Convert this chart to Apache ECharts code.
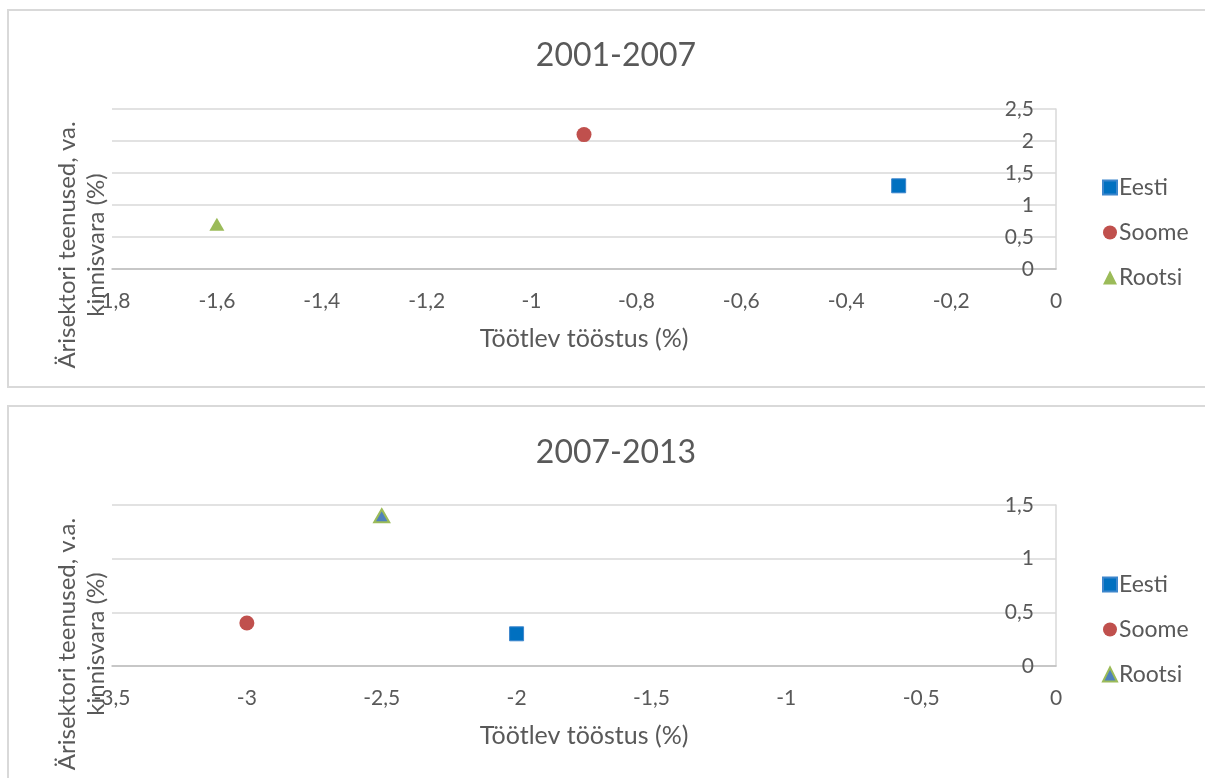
<!DOCTYPE html>
<html>
<head>
<meta charset="utf-8">
<script src="https://cdn.jsdelivr.net/npm/echarts@6/dist/echarts.min.js"></script>
<style>
  html, body { margin: 0; padding: 0; background: #fff; overflow: hidden; }
  body { width: 1205px; height: 778px; position: relative; }
  .frame { position: absolute; left: 7px; width: 1260px; border: 2px solid #d9d9d9; box-sizing: border-box; }
  .chart { position: absolute; left: 0; width: 1205px; }
</style>
</head>
<body>
<div class="frame" style="top:9px;height:379px;"></div>
<div class="frame" style="top:405px;height:420px;"></div>
<div id="c1" class="chart" style="top:0;height:390px;"></div>
<div id="c2" class="chart" style="top:396px;height:382px;"></div>
<script>
// Change in share of value added (percentage points): [manufacturing, business services]
const seriesNames = ['Eesti', 'Soome', 'Rootsi'];

const eesti2001 = [[-0.3, 1.3]];
const soome2001 = [[-0.9, 2.1]];
const rootsi2001 = [[-1.6, 0.7]];

const eesti2007 = [[-2.0, 0.3]];
const soome2007 = [[-3.0, 0.4]];
const rootsi2007 = [[-2.5, 1.4]];

const xTitle = 'Töötlev tööstus (%)';
const yTitle2001 = ['Ärisektori teenused, va.', 'kinnisvara (%)'];
const yTitle2007 = ['Ärisektori teenused, v.a.', 'kinnisvara (%)'];

const FONT = 'Lato, "Open Sans", sans-serif';
const TXT = '#595959';

const fmt = v => String(Math.round(v * 100) / 100).replace('.', ',');

function buildOption(cfg) {
  const seriesData = cfg.data;
  const styles = [
    { symbol: 'rect', symbolSize: 14, itemStyle: { color: '#0070c0', borderColor: '#3d86cc', borderWidth: 1, opacity: 1 } },
    { symbol: 'circle', symbolSize: 15, itemStyle: { color: '#c0504d', opacity: 1 } },
    cfg.rootsiStyle
  ];
  return {
    animation: false,
    textStyle: { fontFamily: FONT },
    title: {
      text: cfg.title,
      left: 611, top: cfg.titleTop,
      textAlign: 'center',
      textStyle: { fontFamily: FONT, fontSize: 32, fontWeight: 'normal', color: TXT }
    },
    legend: {
      orient: 'vertical',
      left: 1097, top: cfg.legendTop,
      itemWidth: 14, itemHeight: 14, itemGap: 22,
      textStyle: { fontFamily: FONT, fontSize: 23, color: TXT, padding: [0, 0, 0, -3] },
      data: seriesNames
    },
    grid: { left: 112, right: 149, top: cfg.gridTop, height: cfg.gridHeight },
    xAxis: {
      type: 'value', min: cfg.xMin, max: 0, interval: cfg.xInterval,
      name: xTitle, nameLocation: 'middle', nameGap: 57,
      nameTextStyle: { fontFamily: FONT, fontSize: 25, color: TXT },
      axisLine: { show: true, onZero: false, lineStyle: { color: '#bfbfbf', width: 1.5 } },
      axisTick: { show: false },
      axisLabel: { fontFamily: FONT, fontSize: 21, color: TXT, margin: 22, formatter: fmt, showMinLabel: true, showMaxLabel: true },
      splitLine: { show: false }
    },
    yAxis: {
      type: 'value', position: 'right', min: 0, max: cfg.yMax, interval: 0.5,
      axisLine: { show: true, lineStyle: { color: '#d9d9d9', width: 1.5 } },
      axisTick: { show: false },
      axisLabel: { inside: true, fontFamily: FONT, fontSize: 21, color: TXT, margin: 22, formatter: fmt, verticalAlign: 'middle', padding: [0, 0, 5, 0] },
      splitLine: { show: true, lineStyle: { color: '#d9d9d9', width: 1.5 } }
    },
    graphic: [
      {
        type: 'text', x: 67, y: cfg.yTitleCenter, rotation: Math.PI / 2,
        style: { text: cfg.yTitle[0], fontFamily: FONT, fontSize: 24, fill: TXT, align: 'center', verticalAlign: 'middle' }
      },
      {
        type: 'text', x: 96, y: cfg.yTitleCenter, rotation: Math.PI / 2,
        style: { text: cfg.yTitle[1], fontFamily: FONT, fontSize: 24, fill: TXT, align: 'center', verticalAlign: 'middle' }
      }
    ],
    series: seriesNames.map((name, i) => Object.assign({
      name, type: 'scatter', data: seriesData[i], z: 3
    }, styles[i]))
  };
}

const chart1 = echarts.init(document.getElementById('c1'), null, { renderer: 'canvas' });
chart1.setOption(buildOption({
  title: '2001-2007', titleTop: 35,
  legendTop: 171,
  gridTop: 109, gridHeight: 160,
  xMin: -1.8, xInterval: 0.2, yMax: 2.5,
  yTitle: yTitle2001, yTitleCenter: 245,
  data: [eesti2001, soome2001, rootsi2001],
  rootsiStyle: { symbol: 'triangle', symbolSize: [15, 13], itemStyle: { color: '#9bbb59', opacity: 1 } }
}));

const chart2 = echarts.init(document.getElementById('c2'), null, { renderer: 'canvas' });
chart2.setOption(buildOption({
  title: '2007-2013', titleTop: 36,
  legendTop: 172,
  gridTop: 109, gridHeight: 161,
  xMin: -3.5, xInterval: 0.5, yMax: 1.5,
  yTitle: yTitle2007, yTitleCenter: 248,
  data: [eesti2007, soome2007, rootsi2007],
  rootsiStyle: { symbol: 'triangle', symbolSize: [15, 13], itemStyle: { color: '#4f81bd', borderColor: '#9bbb59', borderWidth: 2, opacity: 1 } }
}));
</script>
</body>
</html>
